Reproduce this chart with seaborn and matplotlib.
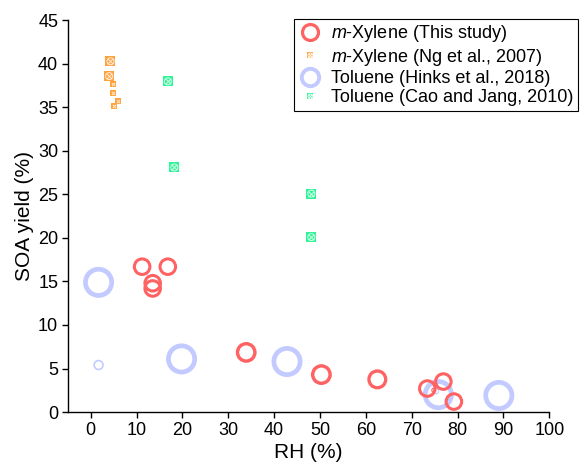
import matplotlib
matplotlib.use("Agg")
import matplotlib.pyplot as plt
from matplotlib.lines import Line2D
import numpy as np
import pandas as pd
import seaborn as sns

# m-Xylene (This study): RH (%), SOA yield (%), bubble value (relative)
XIL_RH = [11.2, 16.8, 13.5, 13.5, 33.9, 50.3, 62.5, 73.4, 76.9, 79.2, 74.8]
XIL_Y = [16.7, 16.7, 14.8, 14.2, 6.85, 4.3, 3.75, 2.7, 3.5, 1.2, 2.5]
XIL_B = [1.0, 1.0, 1.0, 1.0, 1.12, 1.12, 1.08, 1.0, 1.0, 1.0, 0.25]

# m-Xylene (Ng et al., 2007)
NG_RH = [4.3, 4.0, 4.8, 4.8, 6.0, 5.0]
NG_Y = [40.3, 38.6, 37.7, 36.7, 35.7, 35.2]
NG_GRANDE = [True, True, False, False, False, False]

# Toluene (Hinks et al., 2018)
HK_RH = [1.7, 1.7, 19.8, 42.8, 75.8, 89.0, 75.3]
HK_Y = [14.9, 5.4, 6.1, 5.8, 2.0, 1.9, 2.4]
HK_B = [1.0, 0.34, 1.0, 1.0, 1.0, 1.0, 0.2]

# Toluene (Cao and Jang, 2010)
CJ_RH = [16.8, 18.2, 48.1, 48.1]
CJ_Y = [38.0, 28.1, 25.1, 20.1]

ROTULOS = ["$\\it{m}$-Xylene (This study)",
           "$\\it{m}$-Xylene (Ng et al., 2007)",
           "Toluene (Hinks et al., 2018)",
           "Toluene (Cao and Jang, 2010)"]

COR_XIL = "#FF6262"
COR_NG = "#FFA23C"
COR_HK = "#C2CAFF"
COR_CJ = "#2CF596"

sns.set_theme(style="ticks")
plt.rcParams["font.family"] = ["Liberation Sans", "DejaVu Sans"]
plt.rcParams["mathtext.fontset"] = "custom"
plt.rcParams["mathtext.rm"] = "Liberation Sans"
plt.rcParams["mathtext.it"] = "Liberation Sans:italic"
plt.rcParams["text.color"] = "black"
plt.rcParams["axes.labelcolor"] = "black"

xil = pd.DataFrame({"rh": XIL_RH, "y": XIL_Y, "b": XIL_B})
ng = pd.DataFrame({"rh": NG_RH, "y": NG_Y, "g": NG_GRANDE})
hk = pd.DataFrame({"rh": HK_RH, "y": HK_Y, "b": HK_B})
cj = pd.DataFrame({"rh": CJ_RH, "y": CJ_Y})

fig = plt.figure(figsize=(5.8, 4.69), dpi=100)
ax = fig.add_axes([0.117, 0.1215, 0.83, 0.835])


def bolhas(df, cor, s0, lw0):
    s = s0 * df["b"].values ** 2
    lw = np.maximum(lw0 * df["b"].values, 0.8)
    sns.scatterplot(data=df, x="rh", y="y", ax=ax, marker="o", s=s,
                    facecolor="none", edgecolor=cor, linewidths=lw,
                    legend=False, zorder=3)


def quadrado_x(df, cor, lado, circulo):
    sns.scatterplot(data=df, x="rh", y="y", ax=ax, marker="s", s=lado ** 2,
                    color=cor, linewidth=0, legend=False, zorder=4)
    if circulo:
        ax.scatter(df["rh"], df["y"], marker="o", s=(lado * 0.7) ** 2,
                   facecolor="none", edgecolor="white", linewidths=0.7,
                   alpha=0.8, zorder=5)
    ax.scatter(df["rh"], df["y"], marker="x", s=(lado * 0.55) ** 2,
               color="white", linewidths=0.7, alpha=0.8, zorder=5)


bolhas(hk, COR_HK, 357, 3.4)
bolhas(xil, COR_XIL, 125, 2.2)
quadrado_x(ng[ng["g"]], COR_NG, 7.2, True)
quadrado_x(ng[~ng["g"]], COR_NG, 4.2, False)
quadrado_x(cj, COR_CJ, 7.2, True)

ax.set_xlim(-5, 100)
ax.set_ylim(0, 45)
ax.set_xticks(range(0, 101, 10))
ax.set_yticks(range(0, 46, 5))
ax.set_xlabel("RH (%)", fontsize=15, labelpad=3)
ax.set_ylabel("SOA yield (%)", fontsize=15, labelpad=3)
ax.tick_params(labelsize=13, direction="out", length=4, width=1,
               color="black", labelcolor="black", pad=3)
for lado in ["top", "right"]:
    ax.spines[lado].set_visible(False)
for lado in ["left", "bottom"]:
    ax.spines[lado].set_color("black")
    ax.spines[lado].set_linewidth(1)


def marca_qx(cor):
    return (Line2D([], [], ls="", marker="s", ms=5, mfc=cor, mec=cor, mew=0),
            Line2D([], [], ls="", marker="o", ms=3.5, mfc="none", mec="white", mew=0.6),
            Line2D([], [], ls="", marker="x", ms=3, mec="white", mew=0.6))


handles = [Line2D([], [], ls="", marker="o", ms=11.5, mfc="none", mec=COR_XIL, mew=2.3),
           marca_qx(COR_NG),
           Line2D([], [], ls="", marker="o", ms=12.5, mfc="none", mec=COR_HK, mew=2.8),
           marca_qx(COR_CJ)]
leg = ax.legend(handles, ROTULOS, loc="upper right", fontsize=13,
                bbox_to_anchor=(578 / 580, 1 - 19 / 469),
                bbox_transform=fig.transFigure, borderaxespad=0,
                fancybox=False, framealpha=1, edgecolor="black",
                handlelength=1.2, handletextpad=0.6, labelspacing=0.13,
                borderpad=0.24)
leg.get_frame().set_linewidth(0.8)

fig.savefig("out.png", dpi=100)
